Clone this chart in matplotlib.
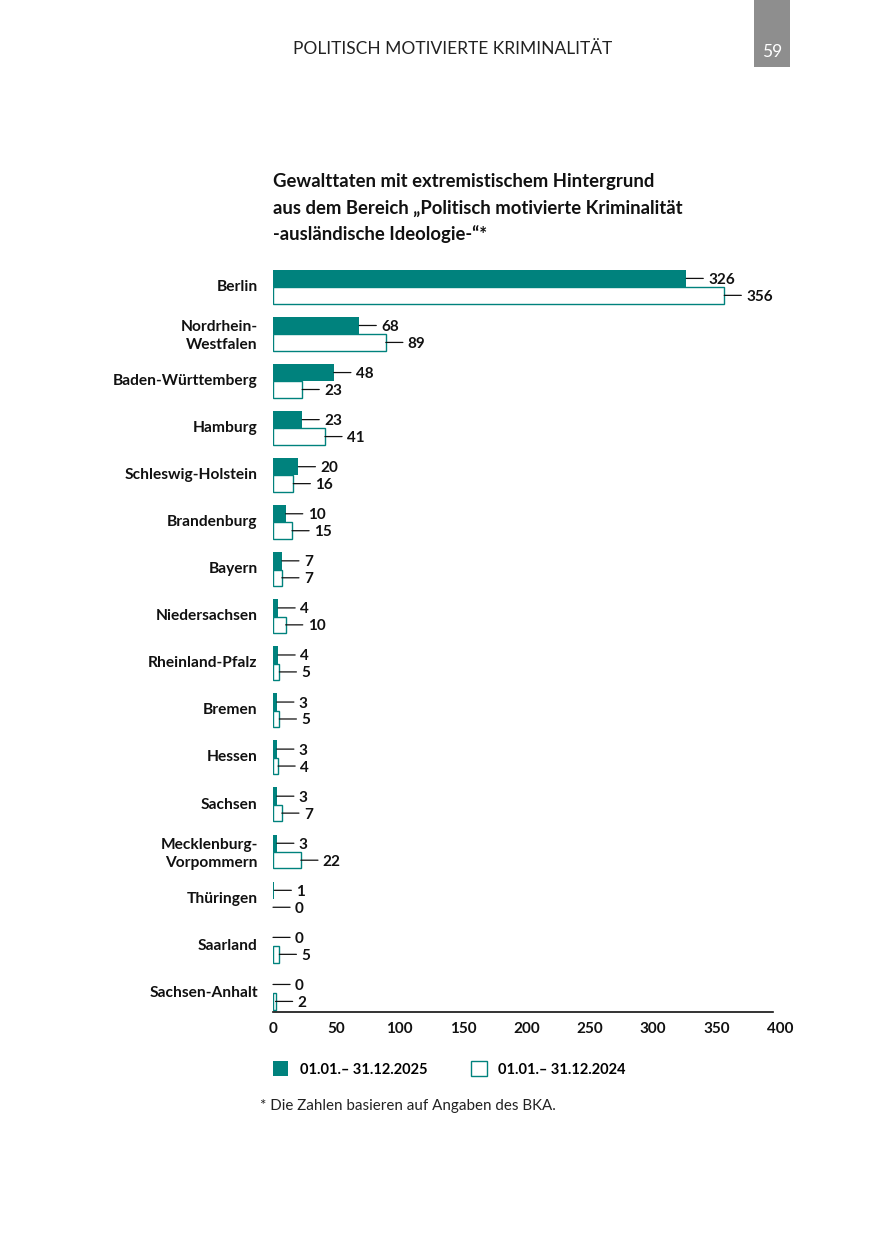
import matplotlib
matplotlib.use("Agg")
import matplotlib.pyplot as plt
from matplotlib.patches import Patch, Rectangle

plt.rcParams['font.family'] = ['Lato', 'DejaVu Sans']

# ---- data ----
states = ["Berlin", "Nordrhein-\nWestfalen", "Baden-Württemberg", "Hamburg",
          "Schleswig-Holstein", "Brandenburg", "Bayern", "Niedersachsen",
          "Rheinland-Pfalz", "Bremen", "Hessen", "Sachsen",
          "Mecklenburg-\nVorpommern", "Thüringen", "Saarland", "Sachsen-Anhalt"]
values_2025 = [326, 68, 48, 23, 20, 10, 7, 4, 4, 3, 3, 3, 3, 1, 0, 0]
values_2024 = [356, 89, 23, 41, 16, 15, 7, 10, 5, 5, 4, 7, 22, 0, 5, 2]
series_labels = ["01.01.\u2013 31.12.2025", "01.01.\u2013 31.12.2024"]
x_ticks = [0, 50, 100, 150, 200, 250, 300, 350, 400]
title_lines = ["Gewalttaten mit extremistischem Hintergrund",
               "aus dem Bereich \u201ePolitisch motivierte Kriminalität",
               "-ausländische Ideologie-\u201c*"]
header = "POLITISCH MOTIVIERTE KRIMINALITÄT"
page_no = "59"
footnote = "* Die Zahlen basieren auf Angaben des BKA."

TEAL = "#00827D"
INK = "#111111"
W, H = 875, 1241
fig = plt.figure(figsize=(W / 100, H / 100), dpi=100)

def fx(px):
    return px / W

def fy(py):
    return 1 - py / H

ax = fig.add_axes([fx(273), fy(1012), fx(780) - fx(273), (1012 - 265) / H])

n = len(states)
pos = list(range(n))
h1, h2 = 0.37, 0.35
ax.barh([p - h1 for p in pos], values_2025, height=h1, align='edge',
        color=TEAL, edgecolor=TEAL, linewidth=0)
ax.barh(pos, values_2024, height=h2, align='edge', color='white',
        edgecolor=TEAL, linewidth=[1.0 if v > 0 else 0 for v in values_2024])

def label(v, y):
    # leader line
    ax.annotate('', xy=(v, y), xytext=(12.3, 0), textcoords='offset points',
                arrowprops=dict(arrowstyle='-', lw=0.9, color=INK,
                                shrinkA=0, shrinkB=0))
    ax.annotate(str(v), xy=(v, y), xytext=(15.8, 0), textcoords='offset points',
                ha='left', va='center_baseline', fontsize=11, fontweight='bold',
                color=INK)

for p, v in zip(pos, values_2025):
    label(v, p - h1 / 2)
for p, v in zip(pos, values_2024):
    label(v, p + h2 / 2)

ax.set_xlim(0, 400)
ax.set_ylim(15.40, -0.47)
ax.set_yticks([p - 0.04 for p in pos])
ax.set_yticklabels(states, fontsize=11.2, fontweight='bold', linespacing=1.4,
                   color=INK)
ax.set_xticks(x_ticks)
ax.set_xticklabels([str(t) for t in x_ticks], fontsize=11, fontweight='bold',
                   color=INK)
ax.tick_params(axis='y', length=0, pad=11)
ax.tick_params(axis='x', length=0, pad=7)
for s in ax.spines.values():
    s.set_visible(False)
ax.axhline(15.40, xmin=0, xmax=(773 - 273) / (780 - 273), color=INK,
           lw=1.2, clip_on=False)

# title
for i, line in enumerate(title_lines):
    fig.text(fx(273), fy(187 + 26.5 * i), line, fontsize=13.3, fontweight='bold',
             ha='left', va='baseline', color=INK)

# header
fig.text(fx(453), fy(54), header, fontsize=12.5, ha='center', va='baseline',
         color='#222222')
fig.patches.append(Rectangle((fx(754), fy(67)), fx(790) - fx(754), 67 / H,
                             transform=fig.transFigure, facecolor='#8e8e8e',
                             edgecolor='none'))
fig.text(fx(772), fy(57), page_no, fontsize=12.5, ha='center', va='baseline',
         color='white')

# legend
handles = [Patch(facecolor=TEAL, edgecolor=TEAL, linewidth=0),
           Patch(facecolor='white', edgecolor=TEAL, linewidth=1.0)]
fig.legend(handles, series_labels, loc='upper left',
           bbox_to_anchor=(fx(273), fy(1061)), ncol=2, frameon=False,
           borderpad=0, borderaxespad=0, handlelength=1.05, handleheight=1.25,
           handletextpad=0.8, columnspacing=3.0,
           prop={'size': 10.5, 'weight': 'bold'})

fig.text(fx(260), fy(1110), footnote, fontsize=10.9, ha='left', va='baseline',
         color='#222222')

fig.savefig("out.png", dpi=100)
